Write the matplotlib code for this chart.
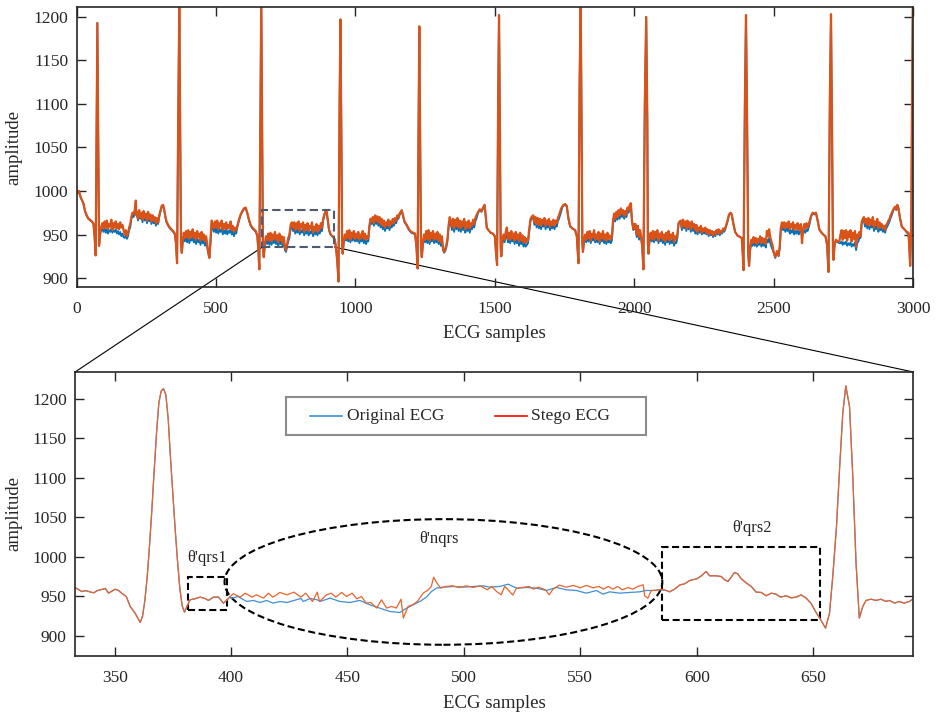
import matplotlib
matplotlib.use("Agg")
import matplotlib.pyplot as plt
from matplotlib.patches import Rectangle, Ellipse, ConnectionPatch
from matplotlib.lines import Line2D

# ---- top panel: first 3000 samples (vertices of original / stego trace) ----
top_x = [
    0, 4, 8, 12, 18, 24, 30, 36, 42, 48, 54, 60, 64, 68, 71, 74, 77, 80, 84, 88,
    *range(92, 193, 4),
    196, 200, 204, 208, 212, 214,
    *range(216, 293, 4),
    296, 300, 305, 310, 314, 318, 322, 328, 334, 340, 346, 352, 356, 360, 364, 368, 371, 374, 377, 380,
    *range(384, 469, 4),
    472, 476, 480, 484,
    *range(488, 573, 4),
    576, 582, 588, 594, 600, 606, 612, 618, 624, 630, 636, 642, 648, 652, 655, 659, 662, 665, 668, 671, 675,
    *range(679, 764, 4),
    768, 772,
    *range(776, 881, 4),
    884, 889, 893, 897, 901, 905, 910, 916, 921, 926, 931, 935, 939, 943, 946, 949, 952, 954, 958,
    *range(962, 1047, 4),
    1050, 1054,
    *range(1058, 1159, 4),
    1162, 1166, 1170, 1176, 1184, 1192, 1200, 1208, 1214, 1219, 1223, 1226, 1229, 1232, 1235, 1238, 1242,
    *range(1246, 1331, 4),
    1334, 1338,
    *range(1342, 1435, 4),
    1440, 1446, 1452, 1458, 1463, 1467, 1471, 1477, 1485, 1493, 1500, 1504, 1508, 1512, 1515, 1518, 1521, 1523, 1527,
    *range(1531, 1620, 4),
    1624, 1628, 1634,
    *range(1638, 1739, 4),
    1742, 1746, 1752, 1758, 1764, 1770, 1778, 1788, 1794, 1797, 1800, 1804, 1808, 1811, 1814, 1816, 1820,
    *range(1824, 1921, 4),
    1924, 1928,
    *range(1932, 1989, 4),
    1992, 1997, 2001,
    2005, 2009, 2013, 2017, 2021, 2025, 2029, 2033, 2038, 2043, 2047, 2049, 2051, 2055,
    *range(2059, 2156, 4),
    2159, 2163,
    *range(2167, 2256, 4),
    *range(2259, 2328, 4),
    2334, 2340, 2346, 2350, 2356, 2362, 2370, 2380, 2386, 2389, 2392, 2397, 2401, 2405, 2409, 2412, 2416,
    *range(2420, 2497, 4),
    2500, 2506, 2512, 2518, 2522, 2526, 2530,
    *range(2534, 2631, 4),
    2634, 2640, 2646, 2652, 2658, 2664, 2670, 2678, 2686, 2692, 2697, 2702, 2706, 2710, 2713, 2715, 2719, 2724, 2730, 2736,
    *range(2740, 2813, 4),
    2816, 2820,
    *range(2824, 2925, 4),
    2930, 2936, 2940, 2944, 2948, 2954, 2960, 2966, 2972, 2978, 2984, 2987, 2990, 2994, 2997, 3000,
]

top_orig = [
    1000, 998, 1000, 994, 990, 985, 976, 971, 968, 966, 965, 962, 948, 926, 1060, 1193, 1070, 937, 950, 955,
    956, 953, 957, 952, 956, 951, 955, 953, 957, 952, 955, 953, 956, 951, 954, 950, 953, 948, 951, 947, 946, 949, 945, 948, 955, 958,
    968, 972, 970, 975, 980, 974,
    972, 966, 974, 968, 972, 964, 973, 966, 971, 963, 972, 965, 970, 962, 968, 963, 966, 960, 966, 962,
    970, 976, 982, 983, 978, 970, 964, 960, 957, 955, 953, 950, 940, 917, 1080, 1215, 1080, 940, 929, 940,
    946, 942, 947, 941, 948, 940, 946, 943, 948, 941, 945, 939, 946, 941, 944, 938, 945, 940, 943, 937, 941, 935,
    930, 925, 940, 962,
    957, 953, 958, 952, 958, 951, 956, 953, 957, 950, 955, 951, 956, 950, 954, 952, 957, 950, 954, 948, 953, 951,
    958, 966, 972, 976, 979, 980, 974, 966, 960, 957, 955, 953, 948, 930, 910, 1080, 1220, 1080, 935, 924, 938,
    943, 939, 945, 938, 946, 938, 944, 940, 946, 939, 943, 936, 945, 939, 942, 936, 941, 932, 930, 937, 942, 946,
    958, 960,
    954, 957, 951, 956, 952, 958, 950, 955, 952, 957, 949, 954, 951, 956, 949, 953, 951, 957, 948, 953, 950, 955, 949, 954, 951, 956, 954,
    966, 972, 976, 975, 965, 955, 950, 948, 947, 944, 932, 918, 896, 1100, 1197, 1080, 940, 928, 940,
    946, 943, 948, 942, 949, 941, 947, 943, 948, 942, 946, 942, 947, 940, 945, 942, 947, 940, 945, 939, 943, 942,
    958, 966,
    962, 966, 960, 968, 962, 967, 960, 966, 958, 963, 956, 961, 954, 959, 957, 962, 955, 960, 958, 963, 960, 965, 963, 968, 968, 972,
    975, 977, 972, 964, 960, 955, 952, 951, 950, 935, 911, 1060, 1189, 1060, 935, 924, 938,
    946, 941, 948, 940, 949, 939, 946, 942, 948, 940, 945, 941, 946, 939, 944, 937, 943, 932, 929, 931, 935, 942,
    958, 966,
    962, 955, 963, 953, 962, 956, 963, 954, 961, 953, 960, 955, 962, 952, 958, 954, 960, 952, 958, 956, 962, 958, 965, 968,
    975, 978, 976, 980, 984, 972, 958, 955, 952, 951, 948, 930, 915, 1110, 1202, 1080, 935, 925, 940,
    946, 941, 947, 950, 941, 946, 940, 947, 942, 945, 939, 946, 940, 944, 937, 945, 939, 942, 936, 940, 936, 938, 940,
    955, 966, 969,
    968, 961, 966, 958, 964, 957, 963, 956, 962, 959, 964, 956, 961, 958, 963, 955, 960, 957, 962, 956, 961, 959, 965, 968, 972, 976,
    981, 983, 984, 982, 968, 959, 957, 955, 948, 932, 917, 1120, 1225, 1080, 940, 930, 940,
    946, 941, 947, 942, 948, 940, 946, 943, 948, 941, 945, 941, 947, 939, 945, 942, 947, 940, 944, 939, 945, 941, 943, 940, 943,
    962, 972,
    965, 971, 967, 973, 968, 975, 970, 974, 968, 973, 970, 976, 975, 980, 983,
    965, 955, 958,
    957, 947, 955, 944, 951, 945, 935, 910, 1100, 1200, 1080, 940, 928, 942,
    947, 942, 948, 941, 947, 943, 948, 940, 946, 942, 947, 940, 945, 938, 946, 941, 947, 939, 944, 940, 945, 937, 942, 940, 946,
    962, 963,
    963, 955, 964, 957, 962, 954, 962, 956, 961, 953, 961, 954, 958, 951, 957, 950, 955, 952, 956, 950, 954, 951, 955,
    950, 954, 948, 953, 949, 952, 947, 951, 948, 953, 950, 954, 949, 952, 951, 955, 953, 956,
    964, 972, 975, 972, 962, 953, 949, 947, 946, 930, 909, 1100, 1202, 1080, 930, 914, 932,
    940, 937, 942, 937, 941, 936, 940, 938, 942, 936, 941, 937, 940, 935, 944, 941, 946, 940, 936, 933,
    930, 923, 930, 925, 934, 955, 962,
    955, 958, 953, 957, 954, 958, 951, 955, 952, 957, 950, 954, 951, 956, 950, 953, 955, 948, 951, 955, 952, 956, 954, 958, 963,
    970, 974, 973, 975, 966, 956, 953, 950, 948, 938, 907, 1110, 1203, 1060, 930, 921, 938, 943, 941, 940,
    940, 942, 938, 941, 939, 942, 937, 940, 938, 941, 936, 939, 937, 941, 932, 940, 942, 946, 946,
    962, 966,
    966, 959, 964, 957, 965, 956, 962, 958, 964, 954, 960, 956, 962, 953, 958, 955, 958, 953, 956, 952, 957, 959, 962, 965, 969, 972,
    978, 981, 978, 984, 980, 968, 959, 957, 955, 952, 951, 935, 914, 960, 1120, 1230,
]

top_stego = [
    1000, 998, 1000, 995, 990, 986, 977, 972, 968, 967, 965, 963, 948, 926, 1060, 1193, 1070, 937, 952, 959,
    963, 957, 965, 958, 966, 956, 962, 959, 967, 955, 963, 958, 965, 957, 962, 956, 964, 958, 961, 955, 950, 955, 948, 952, 958, 962,
    970, 975, 974, 978, 989, 972,
    976, 968, 978, 970, 975, 967, 977, 969, 974, 966, 976, 968, 973, 965, 972, 966, 970, 963, 969, 964,
    972, 977, 983, 984, 978, 971, 965, 961, 958, 956, 954, 951, 940, 917, 1080, 1215, 1080, 940, 929, 942,
    952, 946, 954, 947, 955, 945, 953, 948, 956, 946, 952, 944, 954, 947, 951, 943, 953, 945, 950, 942, 948, 940,
    928, 923, 945, 966,
    962, 957, 965, 958, 966, 956, 963, 959, 966, 955, 962, 957, 964, 956, 961, 958, 965, 955, 960, 953, 958, 955,
    960, 967, 973, 977, 980, 981, 975, 967, 961, 958, 956, 954, 949, 930, 910, 1080, 1220, 1080, 935, 924, 940,
    948, 944, 951, 943, 952, 942, 950, 945, 953, 944, 949, 941, 951, 944, 948, 940, 947, 935, 932, 940, 946, 950,
    962, 964,
    958, 964, 955, 963, 957, 965, 954, 962, 958, 964, 953, 961, 956, 963, 954, 960, 957, 964, 952, 959, 955, 962, 953, 960, 956, 963, 958,
    968, 974, 977, 976, 966, 956, 951, 948, 947, 944, 932, 918, 896, 1100, 1197, 1080, 940, 928, 943,
    950, 945, 954, 946, 955, 944, 952, 947, 954, 945, 951, 946, 953, 944, 950, 947, 954, 945, 951, 944, 948, 946,
    960, 968,
    965, 970, 963, 972, 966, 971, 964, 970, 962, 968, 960, 966, 958, 964, 961, 967, 959, 965, 962, 968, 963, 969, 966, 972, 970, 974,
    976, 978, 973, 965, 961, 956, 953, 952, 951, 935, 911, 1060, 1189, 1060, 935, 924, 942,
    950, 944, 954, 945, 955, 943, 952, 946, 954, 944, 951, 945, 953, 943, 950, 941, 948, 935, 930, 933, 938, 945,
    960, 970,
    966, 959, 968, 957, 967, 960, 969, 958, 966, 957, 965, 960, 968, 956, 964, 958, 966, 957, 963, 960, 967, 962, 969, 972,
    976, 979, 977, 981, 984, 972, 958, 955, 952, 951, 948, 930, 915, 1110, 1202, 1080, 935, 925, 944,
    950, 944, 953, 958, 945, 952, 944, 954, 946, 951, 943, 953, 945, 950, 942, 952, 944, 949, 941, 947, 940, 945, 943,
    958, 968, 971,
    972, 964, 970, 962, 969, 961, 968, 960, 967, 963, 969, 960, 966, 962, 968, 959, 965, 961, 967, 960, 966, 963, 969, 972, 976, 980,
    982, 984, 985, 983, 969, 960, 957, 955, 948, 932, 917, 1120, 1225, 1080, 940, 930, 944,
    950, 944, 953, 946, 954, 943, 951, 947, 955, 944, 950, 945, 953, 942, 951, 946, 954, 944, 950, 943, 952, 945, 949, 944, 948,
    966, 974,
    968, 976, 970, 978, 972, 980, 974, 978, 971, 977, 973, 981, 978, 984, 986,
    966, 956, 962,
    962, 950, 960, 947, 955, 948, 935, 910, 1100, 1200, 1080, 940, 928, 946,
    952, 945, 954, 944, 953, 947, 955, 943, 951, 946, 953, 944, 950, 942, 952, 945, 954, 943, 950, 946, 952, 941, 948, 945, 951,
    963, 965,
    966, 958, 967, 960, 965, 957, 966, 959, 964, 956, 965, 958, 962, 955, 961, 953, 958, 955, 960, 952, 957, 954, 958,
    952, 956, 950, 955, 951, 954, 949, 953, 950, 955, 952, 956, 951, 954, 953, 957, 955, 958,
    965, 973, 975, 973, 962, 953, 949, 947, 946, 930, 909, 1100, 1202, 1080, 930, 914, 935,
    944, 940, 947, 941, 946, 939, 945, 942, 948, 940, 946, 941, 945, 939, 954, 948, 956, 947, 942, 938,
    930, 924, 931, 926, 936, 958, 964,
    958, 964, 957, 963, 959, 965, 956, 962, 958, 964, 955, 961, 957, 963, 955, 960, 962, 940, 956, 962, 957, 963, 958, 962, 966,
    971, 975, 974, 975, 966, 956, 953, 950, 948, 938, 907, 1110, 1203, 1060, 930, 921, 940, 944, 942, 942,
    950, 955, 944, 954, 946, 955, 943, 953, 947, 955, 942, 952, 945, 954, 936, 950, 946, 953, 948,
    964, 968,
    970, 963, 968, 961, 969, 960, 967, 962, 970, 958, 965, 961, 968, 957, 964, 959, 962, 957, 960, 955, 961, 963, 966, 968, 972, 975,
    979, 982, 979, 984, 980, 968, 959, 957, 955, 953, 952, 935, 914, 960, 1120, 1230,
]

# ---- bottom panel: samples 333-693 ----
# shared part around the first QRS complex
bot_qrs1_x = [333, 334.5, 336, 337, 338, 339.5, 341, 342.4, 343.8, 345, 346, 347.4, 348.5, 350.2,
              351.7, 353, 354, 355, 356.7, 358.8, 361, 362, 363, 364, 365, 366, 367, 368, 369, 370,
              371, 372, 373, 374, 375, 376, 377, 378, 379, 380, 381, 382.4, 384.6, 386.7, 388.8,
              390.3, 392.4, 394.6, 396.7, 398.1, 399.6]
bot_qrs1_y = [961.2, 958.5, 956, 957, 957, 955.5, 954.5, 957, 958.3, 959, 960, 954, 956, 959,
              957.4, 954, 952, 949.8, 937, 928.7, 916.9, 925, 945, 975, 1015, 1060, 1110, 1157, 1195, 1210,
              1213, 1205, 1175, 1125, 1080, 1035, 995, 960, 938, 930, 937, 945.6, 947, 949, 947.3,
              944.8, 949, 949, 941.4, 944.8, 949.8]

# embedding region (non-QRS) - original signal
bot_orig_mid_x = [400, 403, 406.7, 409.6, 412.4, 415.3, 418, 421, 424, 427, 430, 431, 434, 437,
                  438.2, 442.5, 446.8, 451, 455.3, 459.6, 463.9, 468.2, 472.5, 475.4, 478.2, 481.1,
                  483.9, 486.1, 488.2, 491.1, 495.4, 499.7, 504, 508.3, 511.1, 515.4, 519, 522.6,
                  526.9, 531.1, 535.4, 539.7, 544, 548.3, 552.6, 556.9, 559.7, 562.6, 567, 571,
                  575.5, 578.3, 581, 584]
bot_orig_mid_y = [947.3, 949.8, 943.5, 944.8, 942.2, 944.8, 941.4, 943.5, 942.2, 944.8, 947.3, 943.5,
                  947.3, 945.6, 943.5, 947.7, 943.5, 942.2, 944.8, 939.3, 935.1, 930.8, 929.6, 935.1,
                  939.3, 943.5, 949, 956.2, 960.4, 961.6, 962.5, 961.6, 962.5, 963.3, 961.6, 962.5,
                  965.4, 960.4, 961.2, 960.4, 957.4, 961.2, 958.3, 957.4, 954, 957.4, 952.8, 955.7,
                  954, 954.9, 955.7, 957.4, 957.4, 958.3]

# embedding region (non-QRS) - stego signal
bot_stego_mid_x = [401, 404, 406, 409, 411, 414, 416, 418, 421, 424, 427, 430, 432, 435, 437, 438,
                   441, 443, 445, 447.5, 449.6, 452, 454, 456, 458, 460, 462.5, 464.6, 466.8, 469,
                   471, 473, 474, 476, 478, 480, 482.5, 484.7, 486, 487, 488, 490, 492.5, 495, 498,
                   501, 504, 507, 510, 512, 514, 516, 517.5, 519, 521, 522.6, 525, 528, 530, 532,
                   535, 536.6, 538.3, 541, 544, 547, 550, 552.6, 555.4, 558, 560, 562, 564, 566,
                   568, 570.5, 572.6, 574.7, 577, 577.6, 579, 580.5, 582.6, 584.8]
bot_stego_mid_y = [953.2, 949, 954, 949, 951.9, 947.7, 954, 949, 954.9, 951.9, 955.3, 949, 954, 943.5,
                   955.3, 943.5, 951.9, 954, 949, 954.9, 949.8, 954, 946.8, 949.8, 941.4, 942.2,
                   935.1, 945.6, 935.1, 937.2, 935.1, 946.4, 922.4, 937.2, 939.3, 943.5, 954, 958.3,
                   962.5, 974.3, 968.8, 960.4, 962.5, 963.3, 961.2, 963.3, 961.2, 963.3, 958.3, 962.5,
                   956.2, 951.9, 962.5, 958.3, 951.5, 960.4, 961.2, 962.5, 959.1, 961.6, 958.3, 951.9,
                   959.1, 964.2, 961.6, 963.8, 960.8, 963.8, 960.8, 962.5, 959.1, 962.5, 959.1, 962.5,
                   958.3, 961.2, 959.1, 962.5, 964.6, 950.7, 947.7, 957.4, 957.4, 959.1]

# shared part around the second QRS complex
bot_qrs2_x = [586.9, 588.3, 590.5, 592.6, 594.8, 597, 600, 602, 604, 605.5, 608.3, 610.5, 612,
              613.4, 614.8, 616.2, 617.6, 619, 621, 623.4, 625.5, 627.7, 629.8, 632, 634, 636,
              638.4, 640.5, 642.7, 644.8, 647, 649, 651, 653.4, 655.3, 657, 658.4, 660, 661.3,
              662.7, 664, 665.6, 667, 668.4, 669.8, 671.3, 672.7, 674.8, 677, 679, 681.3, 682.7,
              685, 687, 689, 691.3, 692.7]
bot_qrs2_y = [957.4, 955.7, 959.1, 964.2, 965.9, 970.1, 972.2, 976, 981.5, 976, 976, 975.1, 970.9,
              968.8, 974.3, 980.2, 978.5, 972.6, 967.5, 962.5, 955.3, 954.9, 950.7, 954, 952.8, 949,
              950.7, 948.1, 949, 951.9, 947.7, 941.4, 930.8, 919.4, 909.7, 928.7, 975, 1038.4, 1110.2,
              1181.9, 1216.5, 1190.3, 1101.7, 992, 922.4, 937.2, 944.8, 946.4, 944.8, 946.4, 943.5, 944.8,
              941.4, 943.5, 941.4, 943.5, 946.4]

bot_orig_x = bot_qrs1_x + bot_orig_mid_x + bot_qrs2_x
bot_orig_y = bot_qrs1_y + bot_orig_mid_y + bot_qrs2_y
bot_stego_x = bot_qrs1_x + bot_stego_mid_x + bot_qrs2_x
bot_stego_y = bot_qrs1_y + bot_stego_mid_y + bot_qrs2_y

legend_labels = ['Original ECG', 'Stego ECG']

# ---- style ----
TXT = '#262626'
plt.rcParams['font.family'] = ['Liberation Serif', 'DejaVu Serif']
plt.rcParams['text.color'] = TXT
plt.rcParams['axes.labelcolor'] = TXT
plt.rcParams['xtick.color'] = TXT
plt.rcParams['ytick.color'] = TXT


def style_axes(ax):
    for sp in ax.spines.values():
        sp.set_linewidth(1.2)
        sp.set_color(TXT)
    ax.tick_params(direction='in', top=True, right=True, length=6.5, width=1.0,
                   labelsize=12.5)
    ax.tick_params(axis='x', pad=10)
    ax.tick_params(axis='y', pad=6)
    ax.set_facecolor('none')


fig = plt.figure(figsize=(9.38, 7.12), dpi=100)
ax1 = fig.add_axes([0.0818, 0.5973, 0.8915, 0.3924])
ax2 = fig.add_axes([0.0800, 0.0787, 0.8937, 0.3988])

# top: full record
ax1.plot(top_x, top_orig, color='#0072BD', lw=1.3)
ax1.plot(top_x, top_stego, color='#D95319', lw=1.6)
ax1.set_xlim(0, 3000)
ax1.set_ylim(890, 1211)
ax1.set_xticks(range(0, 3001, 500))
ax1.set_yticks(range(900, 1201, 50))
ax1.set_xlabel('ECG samples', fontsize=13.5)
ax1.set_ylabel('amplitude', fontsize=13.5)
ax1.xaxis.set_label_coords(0.5, -0.137)
ax1.yaxis.set_label_coords(-0.0646, 0.5)
style_axes(ax1)

zoom_box = Rectangle((666, 935.6), 258.3, 42.8, fill=False, edgecolor='#4D5B70',
                     lw=1.5, ls=(0, (4, 2)), zorder=3)
ax1.add_patch(zoom_box)

# bottom: zoomed window
ax2.plot(bot_orig_x, bot_orig_y, color='#3D8FD6', lw=0.9)
ax2.plot(bot_stego_x, bot_stego_y, color='#E8642C', lw=0.9)
ax2.set_xlim(333, 693)
ax2.set_ylim(874.5, 1234)
ax2.set_xticks(range(350, 651, 50))
ax2.set_yticks(range(900, 1201, 50))
ax2.set_xlabel('ECG samples', fontsize=13.5)
ax2.set_ylabel('amplitude', fontsize=13.5)
ax2.xaxis.set_label_coords(0.5, -0.136)
ax2.yaxis.set_label_coords(-0.0624, 0.5)
style_axes(ax2)

dash = (0, (3.4, 1.7))
ax2.add_patch(Rectangle((381.4, 933), 16.8, 42, fill=False, ec='black', lw=1.5, ls=dash))
ax2.add_patch(Ellipse((491.2, 968.2), 188, 159, fill=False, ec='black', lw=1.5, ls=dash))
ax2.add_patch(Rectangle((585.1, 920.3), 67.9, 92.7, fill=False, ec='black', lw=1.5, ls=dash))
ax2.text(389.6, 998.4, "θ'qrs1", ha='center', va='center', fontsize=12)
ax2.text(489.4, 1022.8, "θ'nqrs", ha='center', va='center', fontsize=12)
ax2.text(623.7, 1036, "θ'qrs2", ha='center', va='center', fontsize=12)

# legend box drawn in axes coordinates
ax2.add_patch(Rectangle((0.2517, 0.778), 0.4294, 0.135, transform=ax2.transAxes,
                        facecolor='white', edgecolor='#8C8C8C', lw=1.5, zorder=5))
leg_y = 0.8456
ax2.add_line(Line2D([0.2803, 0.3181], [leg_y, leg_y], transform=ax2.transAxes,
                    color='#3D8FD6', lw=1.2, zorder=6))
ax2.text(0.3241, leg_y, legend_labels[0], transform=ax2.transAxes, ha='left',
         va='center', fontsize=12.5, zorder=6)
ax2.add_line(Line2D([0.5010, 0.5388], [leg_y, leg_y], transform=ax2.transAxes,
                    color='#FF0000', lw=1.2, zorder=6))
ax2.text(0.5436, leg_y, legend_labels[1], transform=ax2.transAxes, ha='left',
         va='center', fontsize=12.5, zorder=6)

# lines from the zoom box to the lower panel
for xa, xb in [(666, 0), (924.3, 1)]:
    con = ConnectionPatch(xyA=(xa, 935.6), coordsA=ax1.transData,
                          xyB=(xb, 1), coordsB=ax2.transAxes,
                          color='black', lw=0.8, zorder=-1)
    fig.add_artist(con)

fig.savefig('out.png', dpi=100)
